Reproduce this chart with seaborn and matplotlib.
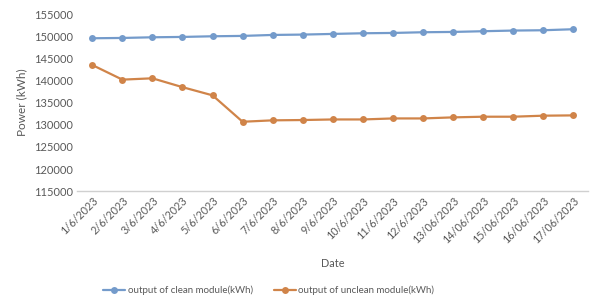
import matplotlib
matplotlib.use("Agg")
import matplotlib.pyplot as plt
import seaborn as sns
import pandas as pd
import numpy as np

dates = ["1/6/2023", "2/6/2023", "3/6/2023", "4/6/2023", "5/6/2023", "6/6/2023",
         "7/6/2023", "8/6/2023", "9/6/2023", "10/6/2023", "11/6/2023", "12/6/2023",
         "13/06/2023", "14/06/2023", "15/06/2023", "16/06/2023", "17/06/2023"]
clean = [149550, 149620, 149770, 149850, 150000, 150080, 150300, 150380, 150530,
         150680, 150750, 150910, 150980, 151140, 151290, 151360, 151590]
unclean = [143500, 140200, 140500, 138500, 136650, 130680, 131000, 131070, 131200,
           131200, 131430, 131430, 131670, 131820, 131820, 132050, 132120]
series_names = ["output of clean module(kWh)", "output of unclean module(kWh)"]
yticks = [115000, 120000, 125000, 130000, 135000, 140000, 145000, 150000, 155000]

sns.set_theme(style="white")
plt.rcParams['font.family'] = ['Lato', 'DejaVu Sans']
txt = "#595959"

df = pd.DataFrame({
    "idx": list(range(len(dates))) * 2,
    "value": clean + unclean,
    "series": [series_names[0]] * len(dates) + [series_names[1]] * len(dates),
})

fig = plt.figure(figsize=(5.9, 3.01), dpi=100)
ax = fig.add_axes([0.131, 0.365, 0.866, 0.588])
palette = {series_names[0]: "#749BCB", series_names[1]: "#D08449"}
sns.lineplot(data=df, x="idx", y="value", hue="series", palette=palette,
             marker="o", markersize=5, markeredgewidth=0, linewidth=1.6, ax=ax)

ax.set_xlim(-0.5, len(dates) - 0.5)
ax.set_ylim(115000, 155000)
ax.set_yticks(yticks)
ax.set_yticklabels([str(v) for v in yticks], fontsize=8, color=txt)
ax.set_xticks(range(len(dates)))
ax.set_xticklabels(dates, rotation=45, ha="right", rotation_mode="anchor",
                   fontsize=7.8, color=txt)
ax.tick_params(axis="both", length=0, pad=3)
for s in ["top", "right", "left"]:
    ax.spines[s].set_visible(False)
ax.spines["bottom"].set_color("#D0D0D0")
ax.spines["bottom"].set_linewidth(1)
ax.set_xlabel("Date", fontsize=7.8, color=txt, labelpad=9)
ax.set_ylabel("Power (kWh)", fontsize=8.5, color=txt, labelpad=5)

ax.legend(loc="center", bbox_to_anchor=(0.375, -0.56), ncol=2, frameon=False,
          fontsize=7, labelcolor=txt, handlelength=2.2, columnspacing=2.2,
          handletextpad=0.3)

fig.savefig("out.png", dpi=100)
